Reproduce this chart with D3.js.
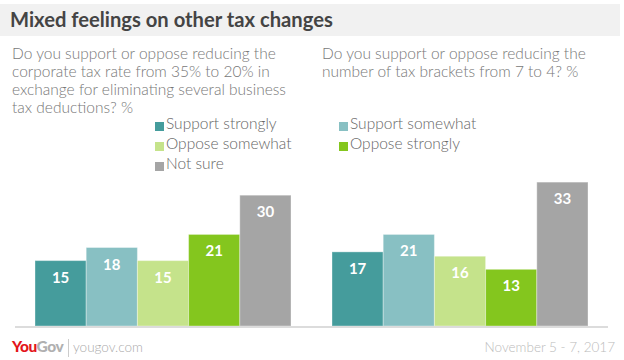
<!DOCTYPE html>
<html>
<head>
<meta charset="utf-8">
<script src="https://cdn.jsdelivr.net/npm/d3@7"></script>
<style>
  html, body { margin: 0; padding: 0; background: #fff; }
  svg { display: block; }
</style>
</head>
<body>
<svg id="chart" width="624" height="360"></svg>
<script>
const title = "Mixed feelings on other tax changes";
const categories = ["Support strongly", "Support somewhat", "Oppose somewhat", "Oppose strongly", "Not sure"];
const colors = ["#459c9c", "#88c0c3", "#c5e38b", "#84c61e", "#a5a5a5"];
const questions = [
  ["Do you support or oppose reducing the", "corporate tax rate from 35% to 20% in", "exchange for eliminating several business", "tax deductions? %"],
  ["Do you support or oppose reducing the", "number of tax brackets from 7 to 4? %"]
];
const corporateValues = [15, 18, 15, 21, 30];
const bracketValues = [17, 21, 16, 13, 33];
const footerSource = "yougov.com";
const footerDate = "November 5 - 7, 2017";

const svg = d3.select("#chart");
const font = "Lato, 'Open Sans', sans-serif";

// Title bar
svg.append("rect").attr("x", 0).attr("y", 4).attr("width", 620).attr("height", 32).attr("fill", "#f1f1f1");
svg.append("text").attr("x", 10).attr("y", 27).text(title)
  .attr("font-family", font).attr("font-size", 20.2).attr("font-weight", 700).attr("fill", "#444");

// Questions
const qx = [12, 322];
questions.forEach((lines, qi) => {
  const t = svg.append("text").attr("font-family", font).attr("font-size", 15.5).attr("fill", "#777").attr("font-weight", 300);
  lines.forEach((l, i) => t.append("tspan").attr("x", qx[qi]).attr("y", 59 + i * 18).text(l));
});

// Legend
const legendPos = [[155, 129], [339, 129], [155, 149], [339, 149], [155, 169]];
categories.forEach((c, i) => {
  const [lx, ly] = legendPos[i];
  svg.append("rect").attr("x", lx).attr("y", ly - 7).attr("width", 9).attr("height", 9).attr("fill", colors[i]);
  svg.append("text").attr("x", lx + 11).attr("y", ly).text(c)
    .attr("font-family", font).attr("font-size", 15.5).attr("fill", "#666").attr("font-weight", 300);
});

// Scales
const baseY = 326;
const y = d3.scaleLinear().domain([0, 35]).range([baseY, baseY - 35 * 4.36]);
const panels = [
  { values: corporateValues, range: [35, 291] },
  { values: bracketValues, range: [332, 588] }
];

panels.forEach(p => {
  const x = d3.scaleBand().domain(categories).range(p.range).paddingInner(0);
  const g = svg.append("g");
  g.selectAll("rect").data(p.values).join("rect")
    .attr("x", (d, i) => x(categories[i]))
    .attr("y", d => y(d))
    .attr("width", x.bandwidth())
    .attr("height", d => y(0) - y(d))
    .attr("fill", (d, i) => colors[i])
    .attr("stroke", "rgba(255,255,255,0.35)")
    .attr("stroke-width", 1);
  g.selectAll("text").data(p.values).join("text")
    .attr("x", (d, i) => x(categories[i]) + x.bandwidth() / 2)
    .attr("y", d => y(d) + 22)
    .attr("text-anchor", "middle")
    .attr("font-family", font).attr("font-size", 15).attr("font-weight", 700)
    .attr("fill", "#fff")
    .text(d => d);
});

// Baseline axis
svg.append("line").attr("x1", 15).attr("x2", 608).attr("y1", baseY + 1).attr("y2", baseY + 1)
  .attr("stroke", "#dcdcdc").attr("stroke-width", 2);

// Footer
const logo = svg.append("text").attr("x", 12).attr("y", 352)
  .attr("font-family", font).attr("font-size", 15.5).attr("font-weight", 900).attr("letter-spacing", -0.5);
logo.append("tspan").attr("fill", "#e3151a").text("You");
logo.append("tspan").attr("fill", "#b0b0b0").text("Gov");
svg.append("line").attr("x1", 68.5).attr("x2", 68.5).attr("y1", 339).attr("y2", 357).attr("stroke", "#cccccc");
svg.append("text").attr("x", 73).attr("y", 352).text(footerSource)
  .attr("font-family", font).attr("font-size", 13.5).attr("fill", "#aaa").attr("font-weight", 300);
svg.append("text").attr("x", 615).attr("y", 352).attr("text-anchor", "end").text(footerDate)
  .attr("font-family", font).attr("font-size", 13.5).attr("fill", "#bbb").attr("font-weight", 300);
</script>
</body>
</html>
